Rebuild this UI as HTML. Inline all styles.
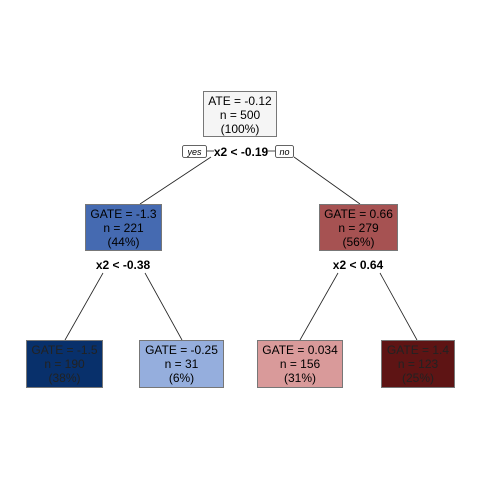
<!DOCTYPE html>
<html><head><style>body{margin:0;background:#fff}svg{display:block}text{font-family:"Liberation Sans",sans-serif;font-size:12px;fill:#000}</style></head><body>
<svg width="480" height="480" viewBox="0 0 480 480">
<g stroke="#222" stroke-width="0.8" fill="none">
<line x1="211" y1="157" x2="140" y2="204"/>
<line x1="294" y1="157" x2="360" y2="204"/>
<line x1="103" y1="273" x2="65" y2="340"/>
<line x1="145" y1="273" x2="182" y2="340"/>
<line x1="338" y1="273" x2="300" y2="340"/>
<line x1="380" y1="273" x2="417" y2="340"/>
<line x1="207" y1="151" x2="214" y2="151"/>
<line x1="268" y1="151" x2="275" y2="151"/>
</g>
<g stroke="#777" stroke-width="1">
<rect x="203.5" y="91.5" width="73" height="45" fill="#f5f5f5"/>
<rect x="85.5" y="204.5" width="76" height="46" fill="#456ab1"/>
<rect x="319.5" y="204.5" width="78" height="46" fill="#a65252"/>
<rect x="26.5" y="340.5" width="76" height="47" fill="#08306b"/>
<rect x="139.5" y="340.5" width="84" height="47" fill="#95aedd"/>
<rect x="257.5" y="340.5" width="85" height="47" fill="#d99a9a"/>
<rect x="381.5" y="340.5" width="73" height="47" fill="#5e1414"/>
</g>
<rect x="182.5" y="145.5" width="24" height="12" rx="2" fill="#fff" stroke="#333" stroke-width="0.8"/>
<rect x="275.5" y="145.5" width="18" height="12" rx="2" fill="#fff" stroke="#333" stroke-width="0.8"/>
<g text-anchor="middle">
<text x="194.5" y="155" style="font-size:9px;font-style:italic">yes</text>
<text x="284.5" y="155" style="font-size:9px;font-style:italic">no</text>
<text x="241" y="156" font-weight="bold">x2 &lt; -0.19</text>
<text x="123" y="269" font-weight="bold">x2 &lt; -0.38</text>
<text x="358" y="269" font-weight="bold">x2 &lt; 0.64</text>
<text x="240" y="105">ATE = -0.12</text><text x="240" y="119">n = 500</text><text x="240" y="133">(100%)</text>
<text x="123.5" y="218">GATE = -1.3</text><text x="123.5" y="232">n = 221</text><text x="123.5" y="246">(44%)</text>
<text x="358.5" y="218">GATE = 0.66</text><text x="358.5" y="232">n = 279</text><text x="358.5" y="246">(56%)</text>
<text x="64.5" y="354" style="fill:#222">GATE = -1.5</text><text x="64.5" y="368" style="fill:#222">n = 190</text><text x="64.5" y="382" style="fill:#222">(38%)</text>
<text x="181.5" y="354">GATE = -0.25</text><text x="181.5" y="368">n = 31</text><text x="181.5" y="382">(6%)</text>
<text x="300" y="354">GATE = 0.034</text><text x="300" y="368">n = 156</text><text x="300" y="382">(31%)</text>
<text x="418" y="354" style="fill:#222">GATE = 1.4</text><text x="418" y="368" style="fill:#222">n = 123</text><text x="418" y="382" style="fill:#222">(25%)</text>
</g>
</svg>
</body></html>
